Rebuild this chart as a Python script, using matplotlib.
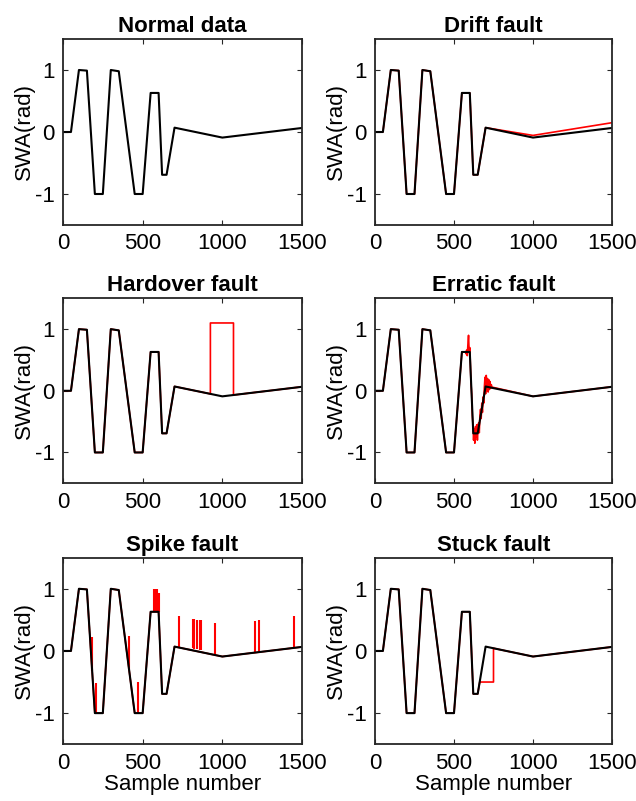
import matplotlib
matplotlib.use("Agg")
import matplotlib.pyplot as plt

plt.rcParams['font.family'] = ['Liberation Sans', 'DejaVu Sans']
plt.rcParams['axes.unicode_minus'] = False

# ---- data ----
titles = ["Normal data", "Drift fault", "Hardover fault", "Erratic fault", "Spike fault", "Stuck fault"]
x_ticks = [0, 500, 1000, 1500]
y_ticks = [-1, 0, 1]

# normal steering wheel angle (waypoints of the piecewise-linear signal)
normal_x = [0, 50, 100, 150, 200, 250, 300, 350, 450, 500, 550, 600, 622, 650, 700, 1000, 1500]
normal_y = [0, 0, 1.0, 0.99, -1.0, -1.0, 1.0, 0.98, -1.0, -1.0, 0.63, 0.63, -0.69, -0.69, 0.07, -0.09, 0.065]

# drift fault
drift_x = [0, 50, 100, 150, 200, 250, 300, 350, 450, 500, 550, 600, 622, 650, 700, 1000, 1500]
drift_y = [0, 0, 1.0, 0.99, -1.0, -1.0, 1.0, 0.98, -1.0, -1.0, 0.63, 0.63, -0.69, -0.69, 0.07, -0.055, 0.15]

# hardover fault
hard_x = [0, 50, 100, 150, 200, 250, 300, 350, 450, 500, 550, 600, 622, 650, 700,
          925, 925, 1070, 1070, 1500]
hard_y = [0, 0, 1.0, 0.99, -1.0, -1.0, 1.0, 0.98, -1.0, -1.0, 0.63, 0.63, -0.69, -0.69, 0.07,
          -0.05, 1.1, 1.1, -0.068, 0.065]

# erratic fault
err_x = [0, 50, 100, 150, 200, 250, 300, 350, 450, 500, 550, 572,
         576, 580, 584, 588, 592, 596, 600, 604, 608, 612, 616, 620, 624, 628, 632, 636,
         640, 644, 648, 652, 656, 660, 664, 668, 672, 676, 680, 684, 688, 692, 696, 700,
         704, 708, 712, 716, 720, 724, 728, 732, 736, 740,
         1000, 1500]
err_y = [0, 0, 1.0, 0.99, -1.0, -1.0, 1.0, 0.98, -1.0, -1.0, 0.63, 0.63,
         0.60, 0.66, 0.57, 0.75, 0.90, 0.62, 0.70, 0.40, 0.10, -0.05, -0.40, -0.55, -0.80, -0.62, -0.85, -0.58,
         -0.75, -0.55, -0.80, -0.60, -0.52, -0.68, -0.40, -0.30, -0.45, -0.20, -0.35, -0.10, -0.20, 0.05, 0.22, -0.05,
         0.25, 0.00, 0.20, -0.02, 0.18, 0.02, 0.15, 0.04, 0.10, 0.06,
         -0.09, 0.065]

# spike fault: sample position, baseline value, spike value
spike_x = [184, 205, 412, 471, 571, 581, 592, 603, 730, 814, 824, 842, 858, 868, 952, 1203, 1232, 1448]
spike_base = [-0.32, -1.0, -0.29, -1.0, 0.63, 0.63, 0.63, 0.63, 0.055, 0.04, 0.035, 0.03, 0.02, 0.015,
              -0.07, -0.03, -0.02, 0.055]
spike_top = [0.22, -0.51, 0.24, -0.50, 1.0, 1.0, 1.0, 0.94, 0.57, 0.52, 0.51, 0.50, 0.49, 0.49,
             0.45, 0.48, 0.49, 0.56]

# stuck fault
stuck_x = [0, 50, 100, 150, 200, 250, 300, 350, 450, 500, 550, 600, 622, 650, 663, 750, 750, 1000, 1500]
stuck_y = [0, 0, 1.0, 0.99, -1.0, -1.0, 1.0, 0.98, -1.0, -1.0, 0.63, 0.63, -0.69, -0.69, -0.5, -0.5,
           0.043, -0.09, 0.065]

# ---- figure ----
W, H = 636, 801
fig = plt.figure(figsize=(W / 100, H / 100), dpi=100)

col_left = [63, 375]
col_width = [239, 237]
row_top = [39, 298.3, 557.7]
row_h = [186, 185, 186.5]

RED = '#ff0000'
BLACK = '#000000'
SPINE = '#262626'

axes = []
for r in range(3):
    for c in range(2):
        ax = fig.add_axes([col_left[c] / W, 1 - (row_top[r] + row_h[r]) / H,
                           col_width[c] / W, row_h[r] / H])
        axes.append(ax)

faults = [None, (drift_x, drift_y), (hard_x, hard_y), (err_x, err_y), 'spike', (stuck_x, stuck_y)]

for i, ax in enumerate(axes):
    f = faults[i]
    if f == 'spike':
        ax.plot(normal_x, normal_y, color=RED, lw=1.2)
        ax.vlines(spike_x, spike_base, spike_top, color=RED, lw=1.5)
    elif f is not None:
        ax.plot(f[0], f[1], color=RED, lw=1.2)
    ax.plot(normal_x, normal_y, color=BLACK, lw=1.5)

    ax.set_xlim(0, 1500)
    ax.set_ylim(-1.5, 1.5)
    ax.set_xticks(x_ticks)
    ax.set_yticks(y_ticks)
    ax.tick_params(direction='in', length=3.5, width=0.8, colors=SPINE,
                   top=True, right=True, labelsize=16, pad=6, labelcolor='#000000')
    for s in ax.spines.values():
        s.set_linewidth(1.3)
        s.set_color(SPINE)
    ax.set_title(titles[i], fontsize=16, fontweight='bold', pad=5)
    ax.set_ylabel('SWA(rad)', fontsize=16, labelpad=0)
    if i >= 4:
        ax.set_xlabel('Sample number', fontsize=16, labelpad=0)

fig.savefig('out.png', dpi=100)
